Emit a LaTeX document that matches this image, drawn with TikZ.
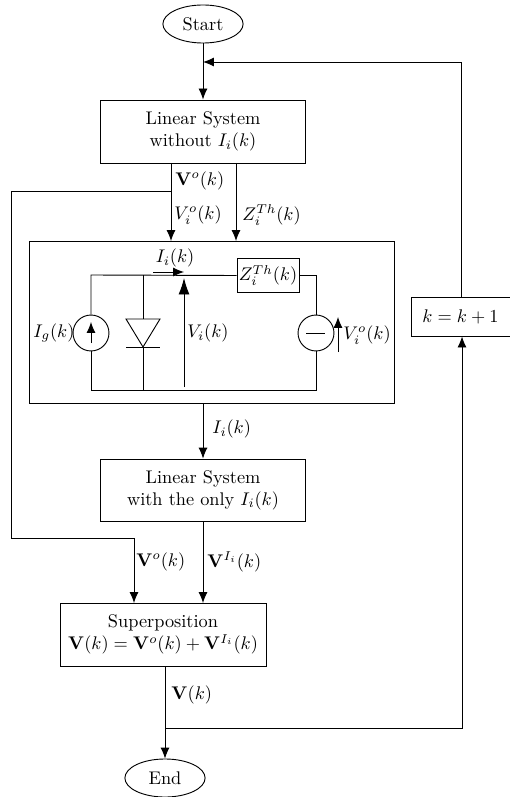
\documentclass[tikz,border=0pt]{standalone}
\usepackage{amsmath,amssymb}
\usepackage{tikz}
\usepackage{xcolor}
\usetikzlibrary{arrows.meta,shapes.geometric}
\tikzset{
  flowbox/.style={draw,align=center,inner sep=0pt},
  terminal/.style={draw,ellipse,minimum width=1.54cm,minimum height=0.73cm,inner sep=0pt},
  source/.style={draw,circle,minimum size=0.69cm,inner sep=0pt},
  flow/.style={-{Latex[length=6pt,width=5pt]}},
  lab/.style={anchor=west,inner sep=0pt}
}
\begin{document}
\begin{tikzpicture}[x=0.0192cm,y=-0.0192cm,line width=0.5pt]
\useasboundingbox (0,0) rectangle (509,797);
% flow chart blocks
\node[terminal] (start) at (203,24) {Start};
\node[flowbox,minimum width=3.92cm,minimum height=1.21cm] (lin1) at (203,131.5) {Linear System\\without $I_i(k)$};
\node[flowbox,minimum width=6.99cm,minimum height=3.11cm] (solve) at (212,322) {};
\node[flowbox,minimum width=3.92cm,minimum height=1.19cm] (lin2) at (203,490) {Linear System\\with the only $I_i(k)$};
\node[flowbox,minimum width=3.955cm,minimum height=1.21cm] (sup) at (163,634.5) {Superposition\\$\mathbf{V}(k)=\mathbf{V}^o(k)+\mathbf{V}^{I_i}(k)$};
\node[terminal] (end) at (165,778) {End};
\node[flowbox,minimum width=1.9cm,minimum height=0.75cm] (inc) at (460.5,316.5) {$k=k+1$};
% junctions
\coordinate (join) at (203,62);
\coordinate (corner1) at (461,62);
\coordinate (tapV) at (171,191);
\coordinate (lin1V) at (171,163);
\coordinate (lin1Z) at (236,163);
\coordinate (inV) at (171,241);
\coordinate (inZ) at (236,241);
\coordinate (left1) at (11,191);
\coordinate (left2) at (11,538);
\coordinate (left3) at (134,538);
\coordinate (supV) at (134,603);
\coordinate (supI) at (203,603);
\coordinate (tapE) at (165,728);
\coordinate (corner2) at (462,728);
% connectors
\draw[flow] (start.south) -- (lin1.north);
\draw[flow] (corner1) -- (join);
\draw (inc.north -| corner1) -- (corner1);
\draw[flow] (lin1V) -- (inV);
\draw[flow] (lin1Z) -- (inZ);
\draw[flow] (tapV) -- (left1) -- (left2) -- (left3) -- (supV);
\draw[flow] (solve.south -| lin2.north) -- (lin2.north);
\draw[flow] (lin2.south) -- (supI);
\draw[flow] (sup.south -| end.north) -- (end.north);
\draw[flow] (tapE) -- (corner2) -- (inc.south -| corner2);
% labels
\node[lab] at (175,181) {$\mathbf{V}^o(k)$};
\node[lab] at (174,215) {$V_i^o(k)$};
\node[lab] at (242,215) {$Z_i^{Th}(k)$};
\node[lab] at (212,429) {$I_i(k)$};
\node[lab] at (136,562) {$\mathbf{V}^o(k)$};
\node[lab] at (207,562) {$\mathbf{V}^{I_i}(k)$};
\node[lab] at (171,695) {$\mathbf{V}(k)$};
% circuit
\node[source] (ig) at (91,333) {};
\node[source] (vo) at (316,333) {};
\node[draw,minimum width=1.19cm,minimum height=0.67cm,inner sep=0pt] (zth) at (268,275.5) {$Z_i^{Th}(k)$};
\coordinate (tl) at (91,275);
\coordinate (bl) at (91,390);
\coordinate (tr) at (316,275);
\coordinate (br) at (316,390);
\coordinate (dt) at (143,275);
\coordinate (db) at (143,390);
\draw (ig.north) -- (tl) -- (zth.west);
\draw (zth.east |- tr) -- (tr) -- (vo.north);
\draw (vo.south) -- (br) -- (bl) -- (ig.south);
% diode
\draw (dt) -- (143,319);
\draw (126,319) -- (160,319) -- (143,347) -- cycle;
\draw (126,347) -- (160,347);
\draw (143,347) -- (db);
% source symbols
\draw[flow] (91,343) -- (91,322);
\draw (306,333) -- (325,333);
\draw[flow] (338,352) -- (338,317);
\draw[flow] (153,272) -- (184,272);
\draw[-{Latex[length=9pt,width=6pt]}] (184,387) -- (184,278);
\node[inner sep=0pt] at (175,258) {$I_i(k)$};
\node[lab] at (187,333) {$V_i(k)$};
\node[lab] at (33,333) {$I_g(k)$};
\node[lab] at (343,335) {$V_i^o(k)$};
\end{tikzpicture}
\end{document}
